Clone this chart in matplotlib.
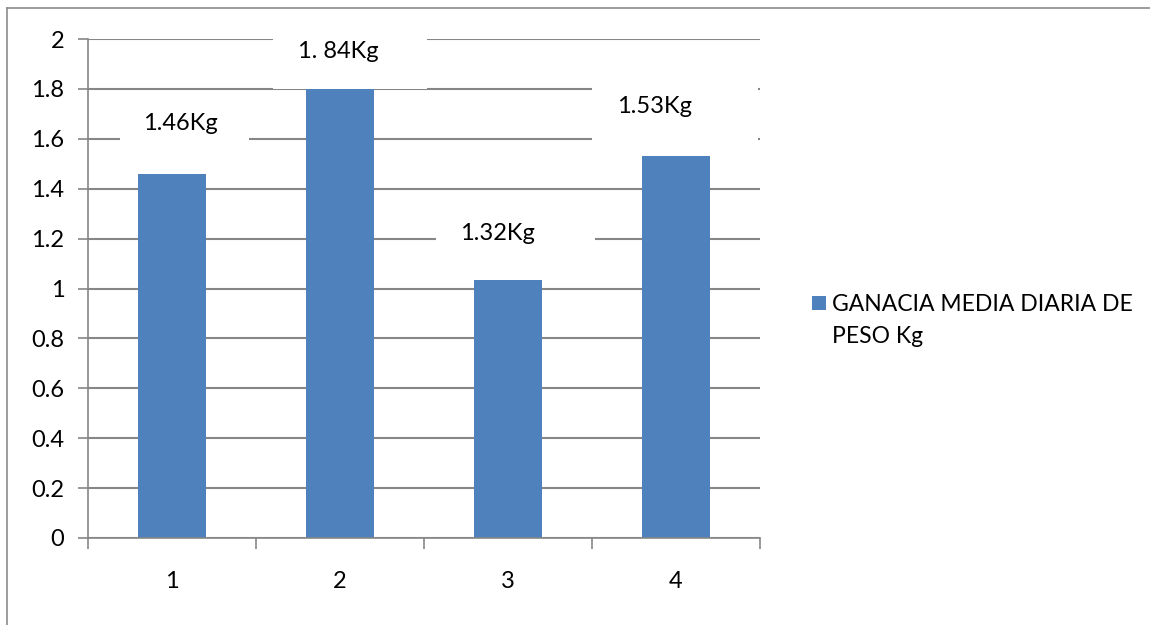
import matplotlib.pyplot as plt
from matplotlib.patches import Rectangle
from matplotlib.lines import Line2D

# daily weight gain per group
groups = ["1", "2", "3", "4"]
gain = [1.46, 1.84, 1.32, 1.53]
gain_labels = ["1.46Kg", "1. 84Kg", "1.32Kg", "1.53Kg"]
series_name = ["GANACIA MEDIA DIARIA DE", "PESO Kg"]
yticks = [0, 0.2, 0.4, 0.6, 0.8, 1, 1.2, 1.4, 1.6, 1.8, 2]

# white label boxes: (left, right) offsets from bar centre, (bottom, top) in data units
box_dx = [(-0.31, 0.46), (-0.40, 0.52), (-0.43, 0.52), (-0.50, 0.49)]
box_y = [(1.50, 1.78), (1.80, 2.07), (1.035, 1.37), (1.56, 1.88)]
text_pos = [(0.05, 1.66), (-0.01, 1.95), (-0.06, 1.22), (-0.13, 1.73)]

bar_color = "#4F81BD"
grid_color = "#868686"
fs = 17

plt.rcParams["font.family"] = ["Lato", "DejaVu Sans"]

fig = plt.figure(figsize=(11.5, 6.25), dpi=100)
ax = fig.add_axes([0.0765, 0.1392, 0.5844, 0.7984])

x = list(range(len(groups)))
ax.bar(x, gain, width=0.4, color=bar_color, zorder=2)

for i in x:
    l, r = box_dx[i]
    b, t = box_y[i]
    ax.add_patch(Rectangle((i + l, b), r - l, t - b, facecolor="white",
                           edgecolor="none", zorder=3, clip_on=False))
    tx, ty = text_pos[i]
    ax.text(i + tx, ty, gain_labels[i], ha="center", va="center",
            fontsize=fs, color="black", zorder=4)

ax.set_xlim(-0.5, 3.5)
ax.set_ylim(0, 2)
ax.set_yticks(yticks)
ax.set_yticklabels([f"{v:g}" for v in yticks], fontsize=fs)
ax.yaxis.grid(True, color=grid_color, linewidth=1.5, zorder=0)
ax.set_axisbelow(True)

# category boundaries get the ticks, labels sit at the centres
ax.set_xticks([-0.5, 0.5, 1.5, 2.5, 3.5])
ax.set_xticklabels([])
ax.set_xticks(x, minor=True)
ax.set_xticklabels(groups, minor=True, fontsize=fs)
ax.tick_params(axis="x", which="major", length=8, width=1.2, color=grid_color, direction="out")
ax.tick_params(axis="x", which="minor", length=0, pad=24)
ax.tick_params(axis="y", length=7, width=1.2, color=grid_color, pad=10)

for s in ["top", "right"]:
    ax.spines[s].set_visible(False)
for s in ["left", "bottom"]:
    ax.spines[s].set_color(grid_color)
    ax.spines[s].set_linewidth(1.2)

# legend: square key beside a two-line series name
fig.add_artist(Rectangle((812 / 1150, 1 - 310 / 625), 14 / 1150, 14 / 625,
                         transform=fig.transFigure, facecolor=bar_color, edgecolor="none"))
for k, line in enumerate(series_name):
    fig.text(832 / 1150, 1 - (311 + 32 * k) / 625, line, ha="left", va="baseline",
             fontsize=16.5)

# chart-area border
fig.add_artist(Line2D([7 / 1150, 1], [1 - 8 / 625, 1 - 8 / 625],
                      transform=fig.transFigure, color="#8c8c8c", linewidth=1.2))
fig.add_artist(Line2D([7 / 1150, 7 / 1150], [0, 1 - 8 / 625],
                      transform=fig.transFigure, color="#8c8c8c", linewidth=1.2))

fig.savefig("out.png", dpi=100)
